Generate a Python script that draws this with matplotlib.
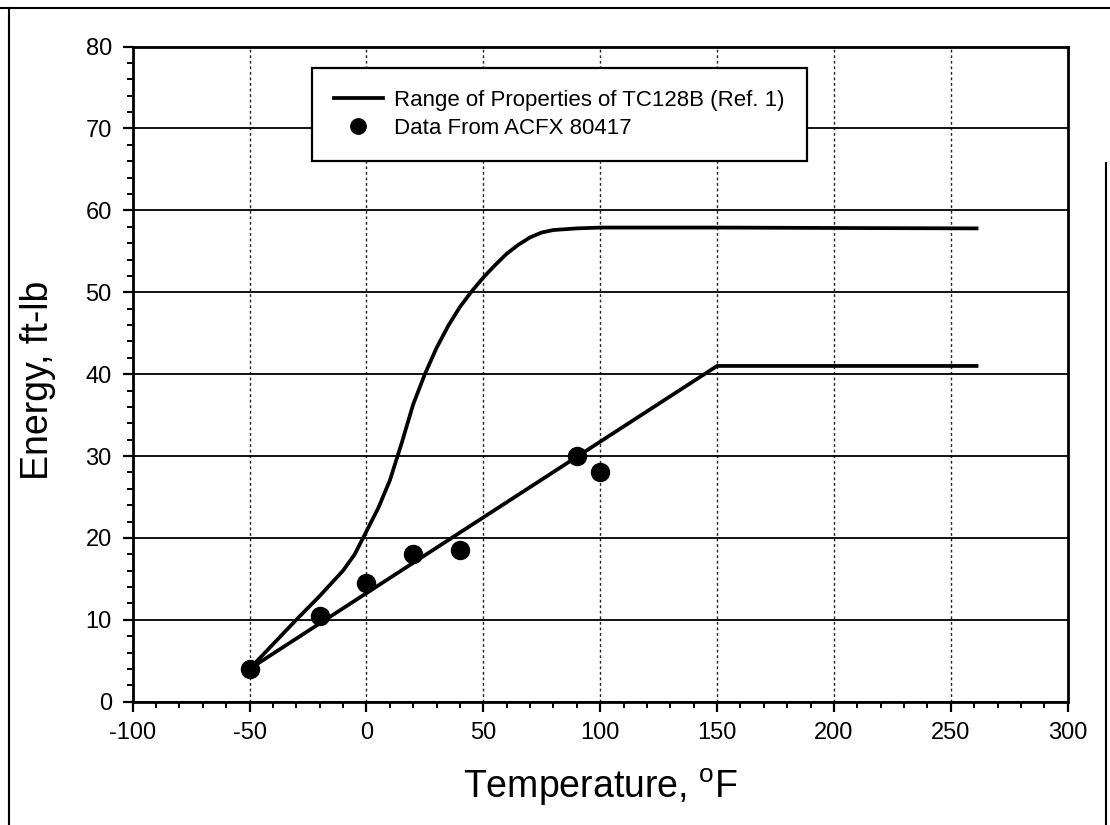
import matplotlib
matplotlib.use("Agg")
import matplotlib.pyplot as plt
from matplotlib.lines import Line2D
from matplotlib.ticker import MultipleLocator

plt.rcParams['font.family'] = ['Liberation Sans', 'DejaVu Sans']
plt.rcParams['axes.unicode_minus'] = False

# upper bound of the TC128B range
upper_t = [-50, -40, -30, -20, -10, -5, 0, 5, 10, 15, 20, 25, 30, 35, 40, 45,
           50, 55, 60, 65, 70, 75, 80, 90, 100, 150, 200, 261]
upper_e = [4, 7, 10, 12.9, 16, 18, 20.8, 23.6, 27, 31.5, 36.3, 40, 43.2, 45.9, 48.2, 50.1,
           51.8, 53.3, 54.7, 55.8, 56.7, 57.3, 57.6, 57.8, 57.9, 57.9, 57.85, 57.8]

# lower bound
lower_t = [-50, 150, 261]
lower_e = [4, 41, 41]

# measured Charpy data, ACFX 80417
data_t = [-50, -20, 0, 20, 40, 90, 100]
data_e = [4, 10.5, 14.5, 18, 18.5, 30, 28]

fig = plt.figure(figsize=(11.1, 8.25), dpi=100)
ax = fig.add_axes([0.1195, 0.1495, 0.8424, 0.794])

ax.plot(upper_t, upper_e, color="black", lw=2.7, label="Range of Properties of TC128B (Ref. 1)", zorder=3)
ax.plot(lower_t, lower_e, color="black", lw=2.7, zorder=3)
ax.plot(data_t, data_e, "o", color="black", ms=13, label="Data From ACFX 80417", zorder=4)

ax.set_xlim(-100, 300)
ax.set_ylim(0, 80)
ax.xaxis.set_major_locator(MultipleLocator(50))
ax.xaxis.set_minor_locator(MultipleLocator(10))
ax.yaxis.set_major_locator(MultipleLocator(10))
ax.yaxis.set_minor_locator(MultipleLocator(2))

# grid: solid horizontal, dotted vertical
ax.grid(axis="y", which="major", color="black", lw=1.3, ls="-")
ax.grid(axis="x", which="major", color="#222222", lw=1.0, ls=(0, (2, 2)))
ax.set_axisbelow(True)

for s in ax.spines.values():
    s.set_linewidth(2)
ax.tick_params(which="major", direction="out", length=7, width=1.6, labelsize=17, pad=8)
ax.tick_params(which="minor", direction="out", length=4, width=1.4)

ax.set_xlabel("Temperature, $\\mathregular{^oF}$", fontsize=27, labelpad=16)
ax.set_ylabel("Energy, ft-lb", fontsize=27)
ax.yaxis.set_label_coords(-0.082, 0.49)

leg = ax.legend(loc="upper left", bbox_to_anchor=(0.1914, 0.9675), borderaxespad=0,
                fontsize=16, frameon=True, fancybox=False, edgecolor="black",
                handlelength=2.2, handletextpad=0.5, labelspacing=0.3, borderpad=1.0,
                markerscale=0.85)
leg.get_frame().set_linewidth(1.6)
leg.get_frame().set_alpha(1)

# scanned page border
fig.add_artist(Line2D([0, 1], [1 - 8 / 825, 1 - 8 / 825], color="black", lw=1.5))
fig.add_artist(Line2D([9 / 1110, 9 / 1110], [0, 1 - 8 / 825], color="black", lw=1.5))
fig.add_artist(Line2D([1106 / 1110, 1106 / 1110], [0, 1 - 163 / 825], color="black", lw=1.5))

plt.savefig("out.png", dpi=100)
